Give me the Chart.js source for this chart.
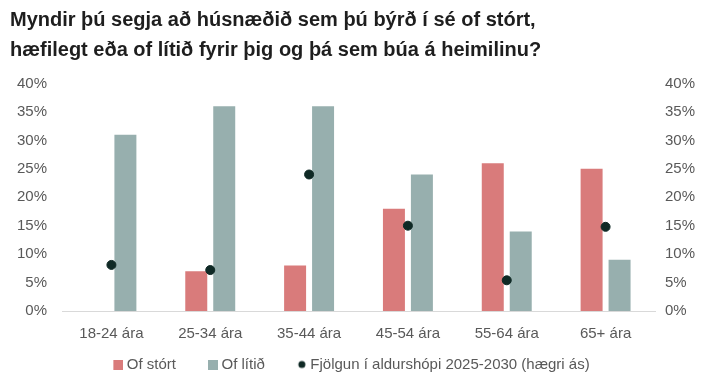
<!DOCTYPE html>
<html>
<head>
<meta charset="utf-8">
<script src="https://cdn.jsdelivr.net/npm/chart.js@4"></script>
<style>
  html, body { margin: 0; padding: 0; background: #fff; }
  #wrap { width: 713px; height: 377px; }
</style>
</head>
<body>
<div id="wrap"><canvas id="chart"></canvas></div>
<script>
// gögn lesin af myndinni
const flokkar = ['18-24 ára', '25-34 ára', '35-44 ára', '45-54 ára', '55-64 ára', '65+ ára'];
const ofStort = [0, 7, 8, 18, 26, 25];
const ofLitid = [31, 36, 36, 24, 14, 9];
const fjolgun = [8.1, 7.2, 24, 15, 5.4, 14.8];

const rauður = '#d97b7b';
const grár = '#97afae';
const punktLitur = '#0f2925';
const textLitur = '#595959';
const letur = "'Liberation Sans', Arial, sans-serif";

// merki í skýringu: teiknuð hægra megin á breiðum striga svo bil verði á milli liða
const kassiBreidd = 38;
const merkiBreidd = kassiBreidd + 8;
function merki(litur, hringlaga) {
  const c = document.createElement('canvas');
  c.width = merkiBreidd;
  c.height = 10;
  const g = c.getContext('2d');
  g.fillStyle = litur;
  if (hringlaga) {
    g.beginPath();
    g.arc(merkiBreidd - 5, 5, 3.5, 0, Math.PI * 2);
    g.fill();
  } else {
    g.fillRect(merkiBreidd - 10, 0, 10, 10);
  }
  return c;
}
const merkin = [merki(rauður, false), merki(grár, false), merki(punktLitur, true)];

// færir skýringuna aðeins til vinstri (auða svæðið fremst í fyrsta merkinu)
const skyringVinstri = {
  id: 'skyringVinstri',
  afterLayout(chart) {
    chart.legend.left -= 26;
    chart.legend.right -= 26;
  }
};

const ctx = document.getElementById('chart').getContext('2d');

const chart = new Chart(ctx, {
  data: {
    labels: flokkar,
    datasets: [
      {
        type: 'bar',
        label: 'Of stórt',
        data: ofStort,
        backgroundColor: rauður,
        yAxisID: 'y',
        order: 1,
        barPercentage: 0.786,
        categoryPercentage: 0.566
      },
      {
        type: 'bar',
        label: 'Of lítið',
        data: ofLitid,
        backgroundColor: grár,
        yAxisID: 'y',
        order: 2,
        barPercentage: 0.786,
        categoryPercentage: 0.566
      },
      {
        type: 'line',
        label: 'Fjölgun í aldurshópi 2025-2030 (hægri ás)',
        data: fjolgun,
        showLine: false,
        pointStyle: 'circle',
        pointRadius: 4.5,
        pointHoverRadius: 4.5,
        pointBackgroundColor: punktLitur,
        pointBorderColor: punktLitur,
        backgroundColor: punktLitur,
        borderColor: punktLitur,
        yAxisID: 'y1',
        order: 0
      }
    ]
  },
  options: {
    responsive: true,
    maintainAspectRatio: false,
    animation: false,
    layout: {
      padding: { left: 10, right: 0, top: 0, bottom: -5 }
    },
    plugins: {
      title: {
        display: true,
        align: 'start',
        text: ['Myndir þú segja að húsnæðið sem þú býrð í sé of stórt,',
               'hæfilegt eða of lítið fyrir þig og þá sem búa á heimilinu?'],
        color: '#1e1e1e',
        font: { family: letur, size: 20, weight: 'bold', lineHeight: 1.5 },
        padding: { top: 5, bottom: 18.5 }
      },
      legend: {
        position: 'bottom',
        labels: {
          usePointStyle: true,
          pointStyleWidth: kassiBreidd,
          boxHeight: 10,
          padding: 0,
          color: textLitur,
          font: { family: letur, size: 15 },
          sort: (a, b) => a.datasetIndex - b.datasetIndex,
          generateLabels: (c) => {
            const items = Chart.defaults.plugins.legend.labels.generateLabels(c);
            items.forEach(it => { it.pointStyle = merkin[it.datasetIndex]; });
            return items;
          }
        }
      },
      tooltip: { enabled: false }
    },
    scales: {
      x: {
        grid: { display: false, drawTicks: false },
        border: { display: true, color: '#d9d9d9', width: 1 },
        ticks: { color: textLitur, font: { family: letur, size: 15 }, padding: 14 }
      },
      y: {
        position: 'left',
        min: 0,
        max: 40,
        grid: { display: false, drawTicks: false },
        border: { display: false },
        ticks: {
          stepSize: 5,
          color: textLitur,
          font: { family: letur, size: 15 },
          padding: 15,
          callback: v => v + '%'
        },
        afterFit: s => { s.width = 52; }
      },
      y1: {
        position: 'right',
        min: 0,
        max: 40,
        grid: { display: false, drawTicks: false },
        border: { display: false },
        ticks: {
          stepSize: 5,
          color: textLitur,
          font: { family: letur, size: 15 },
          padding: 10,
          callback: v => v + '%'
        },
        afterFit: s => { s.width = 58; }
      }
    }
  },
  plugins: [skyringVinstri]
});
</script>
</body>
</html>
